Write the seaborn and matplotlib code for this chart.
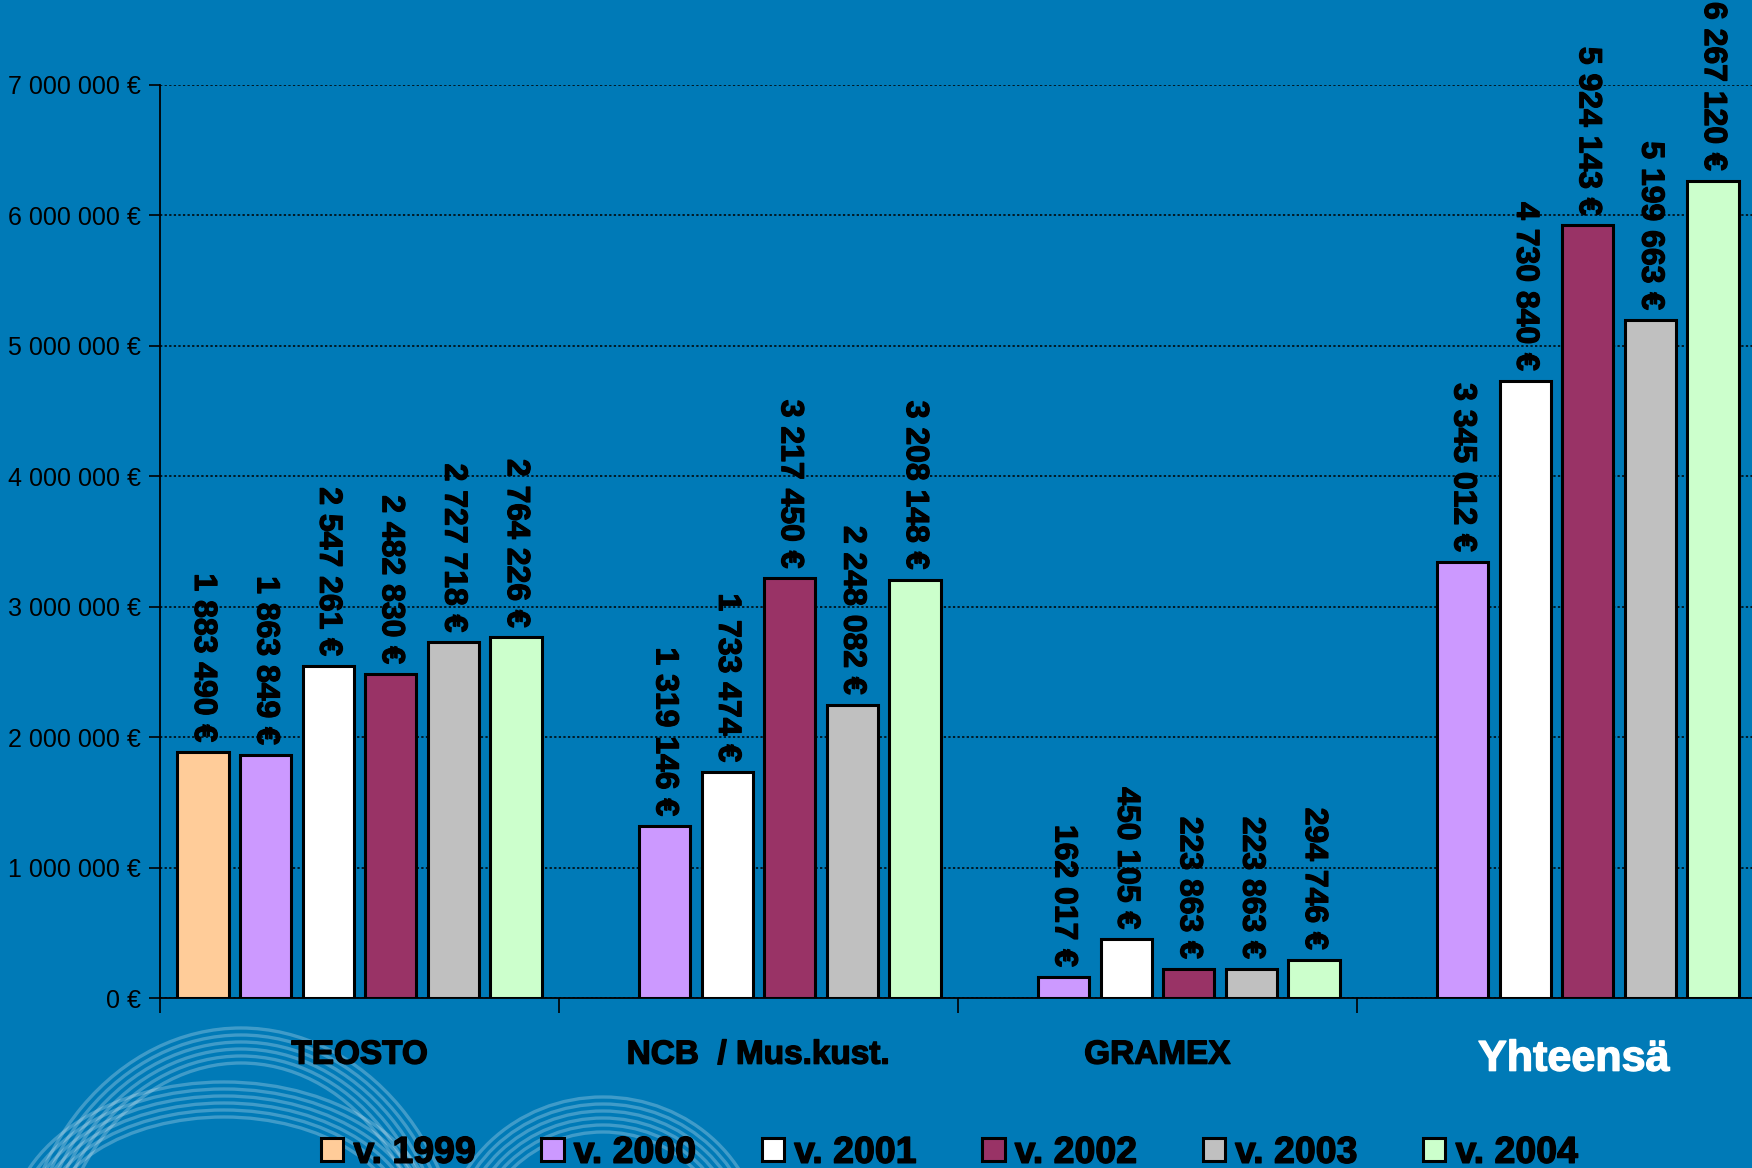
import numpy as np
import pandas as pd
import seaborn as sns
import matplotlib
matplotlib.use("Agg")
import matplotlib.pyplot as plt
from matplotlib.patches import Arc, Patch
import matplotlib.patheffects as pe
from matplotlib.ticker import FixedLocator
from matplotlib.transforms import ScaledTranslation

# ---------------- data ----------------
categories = ["TEOSTO", "NCB  / Mus.kust.", "GRAMEX", "Yhteensä"]
years = ["v. 1999", "v. 2000", "v. 2001", "v. 2002", "v. 2003", "v. 2004"]
v1999 = [1883490, np.nan, np.nan, np.nan]
v2000 = [1863849, 1319146, 162017, 3345012]
v2001 = [2547261, 1733474, 450105, 4730840]
v2002 = [2482830, 3217450, 223863, 5924143]
v2003 = [2727718, 2248082, 223863, 5199663]
v2004 = [2764226, 3208148, 294746, 6267120]
colors = ["#FFCC99", "#CC99FF", "#FFFFFF", "#993366", "#C0C0C0", "#CCFFCC"]
yticks = [0, 1000000, 2000000, 3000000, 4000000, 5000000, 6000000, 7000000]

series = [v1999, v2000, v2001, v2002, v2003, v2004]
rows = []
for yr, vals in zip(years, series):
    for cat, v in zip(categories, vals):
        if not np.isnan(v):
            rows.append({"category": cat, "year": yr, "value": v})
df = pd.DataFrame(rows)


def euro(v):
    return f"{int(round(v)):,}".replace(",", " ") + " €"


# ---------------- style ----------------
BG = "#007AB7"
sns.set_theme(style="white")
plt.rcParams["font.family"] = ["Liberation Sans", "DejaVu Sans"]
plt.rcParams["text.color"] = "black"

W, H = 1752, 1168
fig = plt.figure(figsize=(W / 100, H / 100), dpi=100)
fig.patch.set_facecolor(BG)

# decorative background swirls (pixel coordinate overlay)
deco = fig.add_axes([0, 0, 1, 1], zorder=0)
deco.set_xlim(0, W)
deco.set_ylim(0, H)
deco.axis("off")
bands = [  # (peak x, peak y from top, half width, half height)
    (241, 1028, 225, 270),
    (224, 1082, 215, 150),
    (603, 1097, 160, 153),
]
for px, py, a, b in bands:
    cy = (H - py) - b
    for i in range(6):
        d = 7 * i
        deco.add_patch(Arc((px, cy), 2 * (a - d), 2 * (b - d), theta1=0, theta2=180,
                           color="white", alpha=0.25, lw=2.4))

ax = fig.add_axes([160 / W, (H - 998) / H, 1596 / W, 913 / H], zorder=1)
ax.set_facecolor("none")

sns.barplot(data=df, x="category", y="value", hue="year",
            order=categories, hue_order=years, palette=colors, saturation=1,
            width=0.941, gap=0.18, edgecolor="black", linewidth=2.2,
            errorbar=None, legend=False, ax=ax, zorder=3)

stroke_k = [pe.withStroke(linewidth=0.9, foreground="black")]
for cont in ax.containers:
    labels = [euro(v) for v in cont.datavalues]
    txts = ax.bar_label(cont, labels=labels, rotation=270, padding=7,
                        fontsize=23, fontweight="bold", color="black", clip_on=False)
    for t in txts:
        t.set_path_effects(stroke_k)

ax.set_xlim(-0.5, 3.5)
ax.set_ylim(0, 7000000)
ax.set_yticks(yticks)
ax.set_yticklabels([euro(v) for v in yticks], fontsize=18, color="black")
ax.tick_params(axis="y", direction="out", length=8, width=1.2, color="black",
               pad=6, left=True)
ax.yaxis.grid(True, linestyle=(0, (1.5, 1.5)), color="black", linewidth=1.1)
ax.xaxis.grid(False)
ax.set_axisbelow(True)

ax.set_xticks(range(len(categories)))
ax.set_xticklabels(categories)
ax.tick_params(axis="x", which="major", length=0, pad=30)
ax.xaxis.set_minor_locator(FixedLocator([-0.5, 0.5, 1.5, 2.5]))
ax.tick_params(axis="x", which="minor", direction="out", length=11, width=1.2,
               color="black", bottom=True)
for i, lab in enumerate(ax.get_xticklabels()):
    lab.set_fontweight("bold")
    if categories[i] == "Yhteensä":
        lab.set_color("white")
        lab.set_fontsize(31)
        lab.set_path_effects([pe.withStroke(linewidth=1.0, foreground="white")])
        lab.set_transform(lab.get_transform() +
                          ScaledTranslation(0.17, 0, fig.dpi_scale_trans))
    else:
        lab.set_color("black")
        lab.set_fontsize(24)
        lab.set_path_effects([pe.withStroke(linewidth=1.0, foreground="black")])

ax.set_xlabel("")
ax.set_ylabel("")
for s in ["top", "right"]:
    ax.spines[s].set_visible(False)
for s in ["left", "bottom"]:
    ax.spines[s].set_color("black")
    ax.spines[s].set_linewidth(1.3)

handles = [Patch(facecolor=c, edgecolor="black", linewidth=2.2) for c in colors]
leg = ax.legend(handles, years, loc="center", bbox_to_anchor=(0.542, 0.013),
                bbox_transform=fig.transFigure, ncol=6, frameon=False,
                prop={"family": "Liberation Sans", "weight": "bold", "size": 27},
                handlelength=0.59, handleheight=0.59, handletextpad=0.27,
                columnspacing=1.76, borderpad=0, labelcolor="black")
for t in leg.get_texts():
    t.set_color("black")
    t.set_path_effects([pe.withStroke(linewidth=1.0, foreground="black")])

fig.savefig("out.png", dpi=100, facecolor=BG)
